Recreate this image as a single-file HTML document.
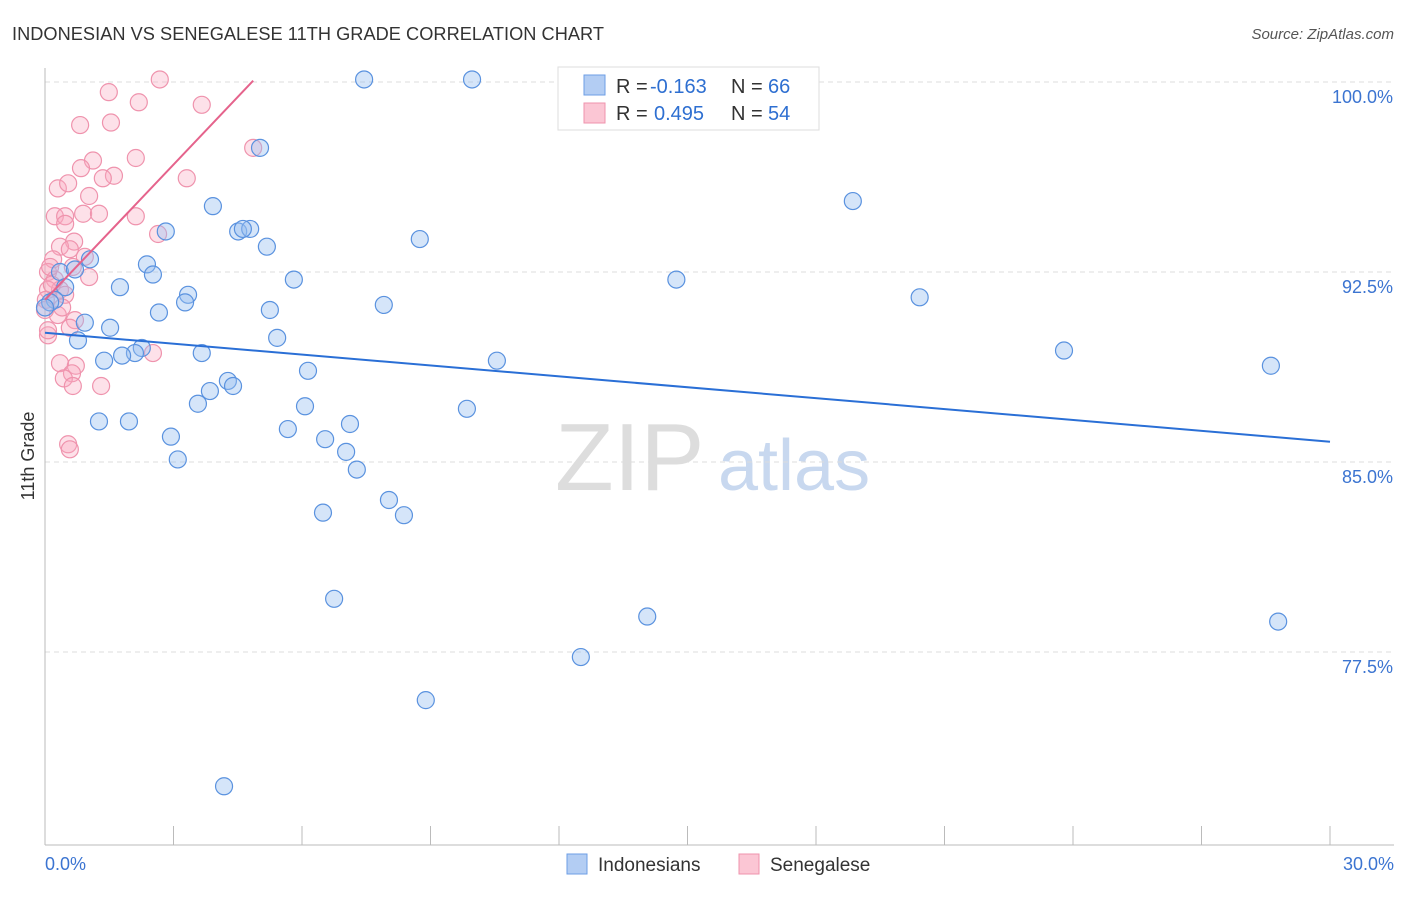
<!DOCTYPE html>
<html><head><meta charset="utf-8"><style>
body{margin:0;background:#fff;font-family:"Liberation Sans",sans-serif}
svg text{font-family:"Liberation Sans",sans-serif}
</style></head><body>
<svg id="c" width="1406" height="892">
<text x="12" y="40" font-size="18.2" fill="#333" textLength="592">INDONESIAN VS SENEGALESE 11TH GRADE CORRELATION CHART</text>
<text x="1394" y="39" font-size="15" fill="#555" font-style="italic" text-anchor="end">Source: ZipAtlas.com</text>
<text x="34" y="456" font-size="18" fill="#333" text-anchor="middle" transform="rotate(-90 34 456)">11th Grade</text>
<text x="555" y="490" font-size="96" fill="#ddd" font-family="Liberation Serif">ZIP</text>
<text x="718" y="490" font-size="72" fill="#c8d8ef">atlas</text>
<g id="grid"></g><g id="pts"></g><g id="lines"></g>
<g>
<rect x="558" y="67" width="261" height="63" fill="#fff" stroke="#ddd"/>
<rect x="584" y="75" width="21" height="20" fill="#b3cdf3" stroke="#6c9ee6"/>
<rect x="584" y="103" width="21" height="20" fill="#fbc6d4" stroke="#ef93ad"/>
<text x="616" y="93" font-size="20" fill="#333">R =</text>
<text x="650" y="93" font-size="20" fill="#2e6fd1">-0.163</text>
<text x="731" y="93" font-size="20" fill="#333">N =</text>
<text x="768" y="93" font-size="20" fill="#2e6fd1">66</text>
<text x="616" y="120" font-size="20" fill="#333">R =</text>
<text x="654" y="120" font-size="20" fill="#2e6fd1">0.495</text>
<text x="731" y="120" font-size="20" fill="#333">N =</text>
<text x="768" y="120" font-size="20" fill="#2e6fd1">54</text>
</g>
<g>
<rect x="567" y="854" width="20" height="20" fill="#b3cdf3" stroke="#6c9ee6"/>
<text x="598" y="871" font-size="19" fill="#333">Indonesians</text>
<rect x="739" y="854" width="20" height="20" fill="#fbc6d4" stroke="#ef93ad"/>
<text x="770" y="871" font-size="19" fill="#333">Senegalese</text>
</g>
<text x="45" y="870" font-size="18" fill="#3b74d1">0.0%</text>
<text x="1394" y="870" font-size="18" fill="#3b74d1" text-anchor="end">30.0%</text>
</svg>
<script>
const yTicks=[100,92.5,85,77.5];
const yTickLabels=["100.0%","92.5%","85.0%","77.5%"];
const blueX=[7.45,9.97,5.02,18.86,3.92,2.82,4.51,4.79,4.62,5.18,8.75,1.05,2.38,2.52,5.81,14.74,0.35,0.70,1.75,0.47,0.23,3.34,3.27,7.91,5.25,20.42,2.66,0.93,1.52,0.77,5.42,2.26,2.10,1.80,1.38,3.66,10.55,23.79,28.62,6.14,4.27,4.39,3.85,3.57,6.07,9.85,1.26,1.96,7.12,5.67,2.94,6.54,7.03,3.10,7.28,8.03,8.38,6.49,6.75,14.06,28.79,12.51,8.89,4.18,0.12,0.0];
const blueY=[100.1,100.1,97.4,95.3,95.1,94.1,94.1,94.2,94.2,93.5,93.8,93.0,92.8,92.4,92.2,92.2,92.5,92.6,91.9,91.9,91.4,91.6,91.3,91.2,91.0,91.5,90.9,90.5,90.3,89.8,89.9,89.5,89.3,89.2,89.0,89.3,89.0,89.4,88.8,88.6,88.2,88.0,87.8,87.3,87.2,87.1,86.6,86.6,86.5,86.3,86.0,85.9,85.4,85.1,84.7,83.5,82.9,83.0,79.6,78.9,78.7,77.3,75.6,72.2,91.3,91.1];
const pinkX=[2.68,1.49,3.66,2.19,0.82,1.54,4.86,2.12,1.12,0.84,1.61,1.35,3.31,0.30,0.54,1.03,0.23,0.47,0.89,1.26,2.12,0.47,2.64,0.68,0.35,0.58,0.93,0.19,0.65,1.03,0.07,0.23,0.35,0.07,0.47,0.30,0.70,0.58,0.07,0.07,2.52,0.35,0.72,0.63,0.44,0.65,1.31,0.54,0.58,0.02,0.12,0.16,0.40,0.0];
const pinkY=[100.1,99.6,99.1,99.2,98.3,98.4,97.4,97.0,96.9,96.6,96.3,96.2,96.2,95.8,96.0,95.5,94.7,94.7,94.8,94.8,94.7,94.4,94.0,93.7,93.5,93.4,93.1,93.0,92.7,92.3,92.5,92.2,91.8,91.8,91.6,90.8,90.6,90.3,90.0,90.2,89.3,88.9,88.8,88.5,88.3,88.0,88.0,85.7,85.5,91.4,92.7,92.0,91.1,91.0];
const blueLine=[[0,90.1],[30,85.8]];
const pinkLine=[[0,91.4],[4.86,100.05]];
const X=v=>45+v/30*1285, Y=v=>82+(100-v)*25.333;
const NS="http://www.w3.org/2000/svg";
function mk(tag,attrs,parent){const e=document.createElementNS(NS,tag);for(const k in attrs)e.setAttribute(k,attrs[k]);document.getElementById(parent).appendChild(e);return e;}
yTicks.forEach((t,i)=>{
 const l=mk('line',{x1:45,x2:1394,y1:Y(t),y2:Y(t),stroke:'#ddd','stroke-dasharray':'5,4'},'grid');
 
 
 const tx=mk('text',{x:1393,y:Y(t)+21,'font-size':18,fill:'#3b74d1','text-anchor':'end'},'grid');
 tx.textContent=yTickLabels[i];
 
 
});
const ax=mk('line',{x1:45,x2:45,y1:68,y2:845,stroke:'#bbb'},'grid');


const bx=mk('line',{x1:45,x2:1394,y1:845,y2:845,stroke:'#bbb'},'grid');


for(let i=0;i<=10;i++){
 const t=mk('line',{x1:X(i*3),x2:X(i*3),y1:826,y2:845,stroke:'#bbb'},'grid');
 
 
}
pinkX.forEach((v,i)=>{
 const c=mk('circle',{cx:X(v),cy:Y(pinkY[i]),r:8.5,fill:'rgba(248,170,192,0.35)',stroke:'#ef93ad','stroke-width':1.2},'pts');
 
 
});
blueX.forEach((v,i)=>{
 const c=mk('circle',{cx:X(v),cy:Y(blueY[i]),r:8.5,fill:'rgba(150,190,240,0.4)',stroke:'#5a92df','stroke-width':1.2},'pts');
 
 
});
const bl=mk('line',{x1:X(blueLine[0][0]),y1:Y(blueLine[0][1]),x2:X(blueLine[1][0]),y2:Y(blueLine[1][1]),stroke:'#2a6fd6','stroke-width':2},'lines');


const pl=mk('line',{x1:X(pinkLine[0][0]),y1:Y(pinkLine[0][1]),x2:X(pinkLine[1][0]),y2:Y(pinkLine[1][1]),stroke:'#e5638c','stroke-width':2},'lines');


</script>
</body></html>
